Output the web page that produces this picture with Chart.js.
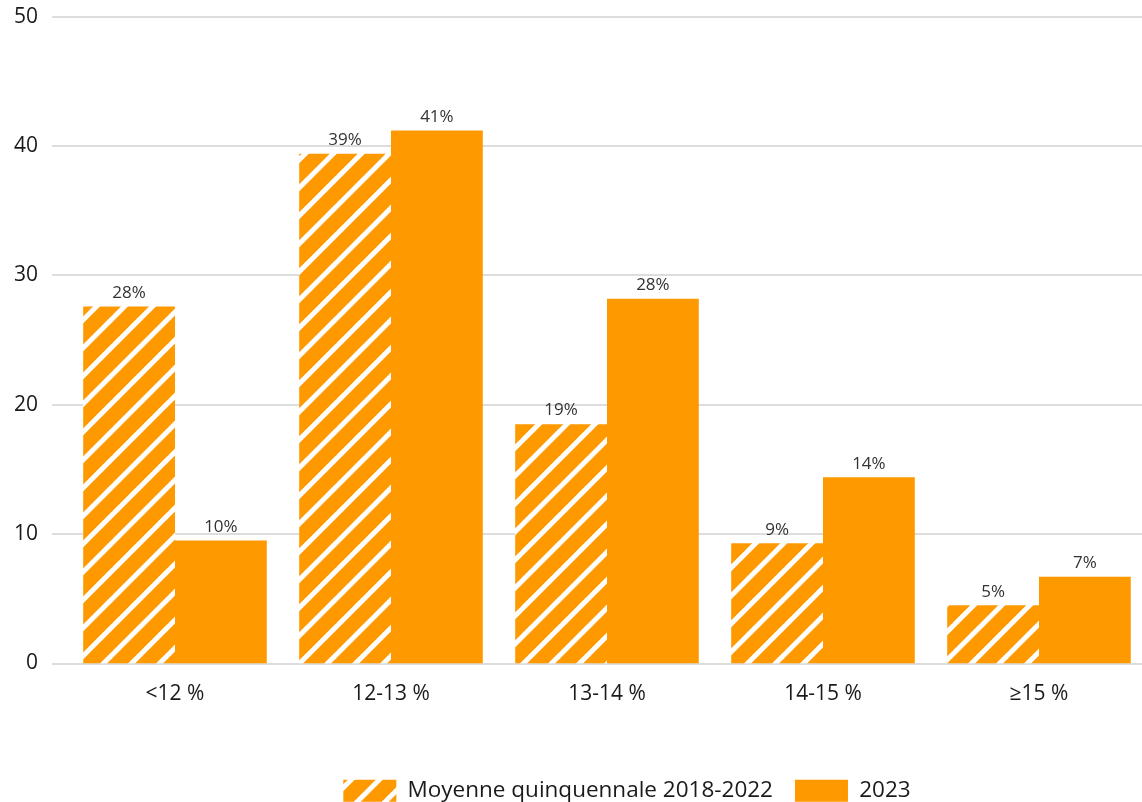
<!DOCTYPE html>
<html>
<head>
<meta charset="utf-8">
<script src="https://cdn.jsdelivr.net/npm/chart.js@4"></script>
<style>
  html, body { margin: 0; padding: 0; background: #fff; overflow: hidden; }
  #wrap { position: relative; top: -17px; width: 1254px; height: 829px; }
</style>
</head>
<body>
<div id="wrap"><canvas id="chart"></canvas></div>
<script>
'use strict';

const categories = ['<12 %', '12-13 %', '13-14 %', '14-15 %', '≥15 %'];
const seriesNames = ['Moyenne quinquennale 2018-2022', '2023'];
const moyenne = [27.6, 39.4, 18.5, 9.3, 4.5];
const annee2023 = [9.5, 41.2, 28.2, 14.4, 6.7];
const yTicks = [0, 10, 20, 30, 40, 50];

const orange = '#ff9900';
const font = '"Open Sans", "Noto Sans", sans-serif';

function makeHatch(){
    const s = 28;
    const p = document.createElement('canvas');
    p.width = s;
    p.height = s;
    const g = p.getContext('2d');
    g.fillStyle = orange;
    g.fillRect(0, 0, s, s);
    g.strokeStyle = '#ffffff';
    g.lineWidth = 5;
    for(let k = -1; k <= 1; k++){
        g.beginPath();
        g.moveTo(k * s - 2, s + 2);
        g.lineTo(k * s + s + 2, -2);
        g.stroke();
    }
    return g.createPattern(p, 'repeat');
}
const hatch = makeHatch();

// horizontal grid lines, starting left of the plot area like the original
const gridPlugin = {
    id: 'grid',
    beforeDatasetsDraw(chart){
        const c = chart.ctx;
        const y = chart.scales.y;
        c.save();
        c.strokeStyle = '#dddddd';
        c.lineWidth = 2;
        yTicks.forEach(v => {
            const py = Math.round(y.getPixelForValue(v));
            c.beginPath();
            c.moveTo(52, py);
            c.lineTo(chart.width, py);
            c.stroke();
        });
        c.restore();
    }
};

// value labels above the bars
const valuePlugin = {
    id: 'values',
    afterDatasetsDraw(chart){
        const c = chart.ctx;
        c.save();
        c.fillStyle = '#333333';
        c.font = '17px ' + font;
        c.textAlign = 'center';
        c.textBaseline = 'bottom';
        chart.data.datasets.forEach((ds, i) => {
            chart.getDatasetMeta(i).data.forEach((bar, j) => {
                c.fillText(Math.round(ds.data[j]) + '%', bar.x, bar.y - 5);
            });
        });
        c.restore();
    }
};

const ctx = document.getElementById('chart');

const wykres = new Chart(ctx, {
    type: 'bar',
    data: {
        labels: categories,
        datasets: [{
            label: seriesNames[0],
            data: moyenne,
            backgroundColor: hatch,
            borderWidth: 0,
        }, {
            label: seriesNames[1],
            data: annee2023,
            backgroundColor: orange,
            borderWidth: 0,
        }]
    },
    options: {
        responsive: true,
        maintainAspectRatio: false,
        animation: false,
        datasets: {
            bar: {
                categoryPercentage: 0.85,
                barPercentage: 1.0,
            }
        },
        plugins: {
            tooltip: { enabled: false },
            legend: {
                position: 'bottom',
                labels: {
                    boxWidth: 53,
                    boxHeight: 22,
                    padding: 22,
                    color: '#1a1a1a',
                    font: { family: font, size: 22.5 },
                },
            },
        },
        scales: {
            x: {
                afterFit(scale){ scale.height = 94; },
                grid: { display: false },
                border: { display: false },
                ticks: {
                    color: '#1a1a1a',
                    padding: 10,
                    font: { family: font, size: 21 },
                },
            },
            y: {
                min: 0,
                max: 50,
                afterFit(scale){ scale.width = 67; },
                afterBuildTicks(scale){ scale.ticks = yTicks.map(v => ({ value: v })); },
                grid: { display: false },
                border: { display: false },
                ticks: {
                    color: '#1a1a1a',
                    padding: 21,
                    font: { family: font, size: 21 },
                },
            },
            // empty right axis, only reserves space so the legend sits where the original has it
            y2: {
                position: 'right',
                min: 0,
                max: 50,
                afterFit(scale){ scale.width = 107; },
                grid: { display: false },
                border: { display: false },
                ticks: { display: false },
            },
        },
    },
    plugins: [gridPlugin, valuePlugin],
});
</script>
</body>
</html>
